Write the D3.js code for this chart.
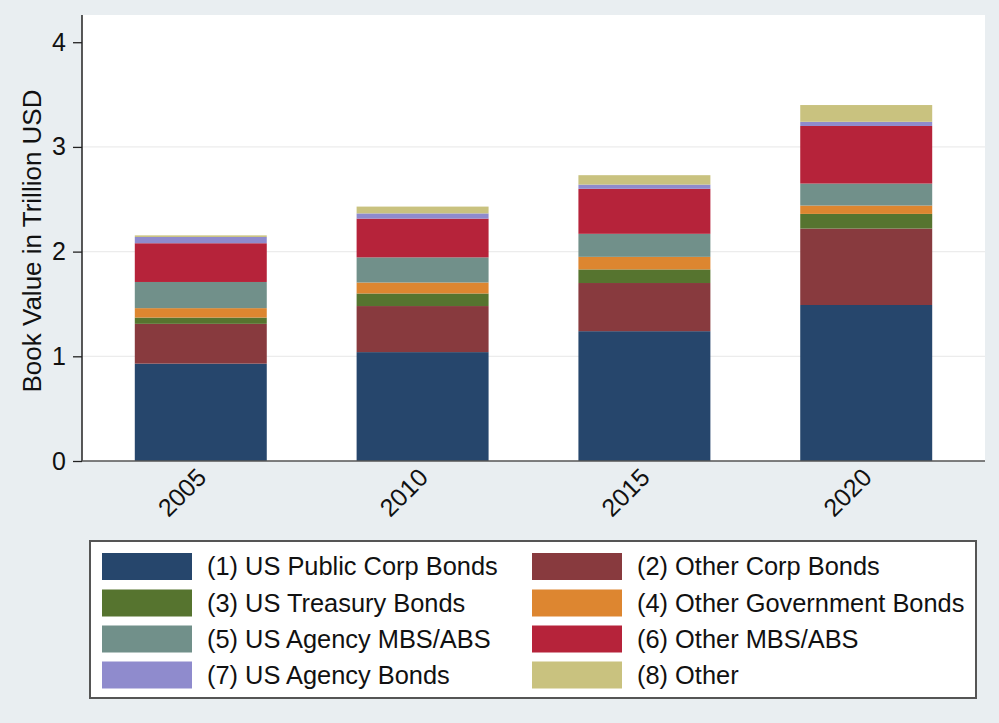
<!DOCTYPE html>
<html>
<head>
<meta charset="utf-8">
<script src="https://cdn.jsdelivr.net/npm/d3@7"></script>
<style>
html,body{margin:0;padding:0;background:#e9eef1;}
svg{display:block;font-family:"Liberation Sans",Arial,Helvetica,sans-serif;}
</style>
</head>
<body>
<svg id="chart" width="999" height="723"></svg>
<script>
// ---- data ----
const years = ["2005", "2010", "2015", "2020"];
const seriesNames = [
  "(1) US Public Corp Bonds", "(2) Other Corp Bonds",
  "(3) US Treasury Bonds", "(4) Other Government Bonds",
  "(5) US Agency MBS/ABS", "(6) Other MBS/ABS",
  "(7) US Agency Bonds", "(8) Other"
];
const usPublicCorp  = [0.93, 1.04, 1.24, 1.49];
const otherCorp     = [0.38, 0.44, 0.46, 0.73];
const usTreasury    = [0.06, 0.12, 0.13, 0.14];
const otherGov      = [0.09, 0.105, 0.12, 0.08];
const usAgencyMBS   = [0.25, 0.24, 0.22, 0.21];
const otherMBS      = [0.37, 0.37, 0.43, 0.55];
const usAgencyBonds = [0.06, 0.05, 0.04, 0.04];
const otherAssets   = [0.015, 0.065, 0.09, 0.16];
const yTicks = [0, 1, 2, 3, 4];
const colors = ["#26466c", "#883a3e", "#56742f", "#dd8630", "#71908a", "#b6233a", "#8f8bcd", "#c9c27f"];

const seriesValues = [usPublicCorp, otherCorp, usTreasury, otherGov, usAgencyMBS, otherMBS, usAgencyBonds, otherAssets];
const keys = seriesNames.map((d, i) => "s" + i);
const table = years.map((yr, j) => {
  const row = { year: yr };
  keys.forEach((k, i) => row[k] = seriesValues[i][j]);
  return row;
});

const svg = d3.select("#chart");
const plot = { left: 82, right: 985, top: 15, bottom: 461 };

// plot background
svg.append("rect").attr("x", plot.left).attr("y", plot.top)
  .attr("width", plot.right - plot.left).attr("height", plot.bottom - plot.top)
  .attr("fill", "#ffffff");

const x = d3.scaleBand().domain(years).range([plot.left, plot.right])
  .paddingInner(0.405).paddingOuter(0.238);
const y = d3.scaleLinear().domain([0, 4.26]).range([plot.bottom, plot.top]);

// gridlines
svg.append("g").selectAll("line").data(yTicks.filter(t => t > 0 && t < 4)).join("line")
  .attr("x1", plot.left).attr("x2", plot.right)
  .attr("y1", d => y(d)).attr("y2", d => y(d))
  .attr("stroke", "#ececec").attr("stroke-width", 1.2);

// bars
const stacked = d3.stack().keys(keys)(table);
svg.append("g").selectAll("g").data(stacked).join("g")
  .attr("fill", (d, i) => colors[i])
  .selectAll("rect").data(d => d).join("rect")
  .attr("x", d => x(d.data.year))
  .attr("width", x.bandwidth())
  .attr("y", d => y(d[1]))
  .attr("height", d => y(d[0]) - y(d[1]));

// y axis
const yAxis = svg.append("g").attr("transform", `translate(${plot.left},0)`)
  .call(d3.axisLeft(y).tickValues(yTicks).tickFormat(d3.format("d")).tickSize(9).tickPadding(7));
yAxis.select(".domain").attr("d", `M0,${plot.top}V${plot.bottom}`).attr("stroke", "#222").attr("stroke-width", 1.5);
yAxis.selectAll(".tick line").attr("stroke", "#222").attr("stroke-width", 1.3);
yAxis.selectAll(".tick text").attr("font-size", 25).attr("fill", "#111")
  .attr("font-family", "Liberation Sans, Arial, sans-serif");

// x axis
const xAxis = svg.append("g").attr("transform", `translate(0,${plot.bottom})`)
  .call(d3.axisBottom(x).tickSize(0).tickPadding(0));
xAxis.select(".domain").attr("d", `M${plot.left},0H${plot.right}`).attr("stroke", "#555").attr("stroke-width", 1.5);
xAxis.selectAll(".tick text")
  .attr("font-size", 25).attr("fill", "#111")
  .attr("font-family", "Liberation Sans, Arial, sans-serif")
  .attr("text-anchor", "end")
  .attr("dy", 0).attr("y", 0)
  .attr("transform", "translate(7,18) rotate(-45)");

// y title
svg.append("text")
  .attr("transform", `translate(41,241) rotate(-90)`)
  .attr("text-anchor", "middle")
  .attr("font-size", 26).attr("fill", "#111")
  .text("Book Value in Trillion USD");

// legend
const lg = svg.append("g");
lg.append("rect").attr("x", 90).attr("y", 541).attr("width", 886).attr("height", 157)
  .attr("fill", "#ffffff").attr("stroke", "#555").attr("stroke-width", 2);
const colX = [102, 532];
const rowY = [566.5, 603, 639, 675];
seriesNames.forEach((name, i) => {
  const c = i % 2, r = Math.floor(i / 2);
  lg.append("rect").attr("x", colX[c]).attr("y", rowY[r] - 13.5)
    .attr("width", 90).attr("height", 27).attr("fill", colors[i]);
  lg.append("text").attr("x", colX[c] + 105).attr("y", rowY[r])
    .attr("dy", "0.35em").attr("font-size", 25.4).attr("fill", "#111").text(name);
});
</script>
</body>
</html>
